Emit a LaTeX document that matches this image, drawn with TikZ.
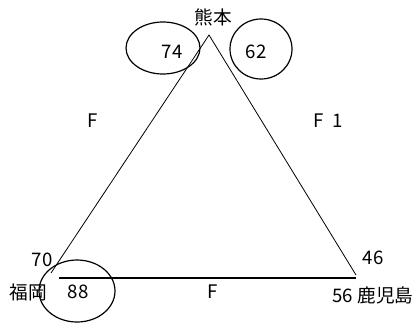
\documentclass[tikz,border=0pt]{standalone}
\usepackage{fontspec}
\setmainfont{Noto Sans CJK JP}
\usepackage{tikz}
\tikzset{
  lbl/.style={inner sep=0pt, font=\fontsize{14}{16}\selectfont},
  ring/.style={draw, line width=0.9pt}
}

\begin{document}
\begin{tikzpicture}[x=0.75pt, y=0.75pt]

  \useasboundingbox (0, 0) rectangle (420, -325);

  % corners of the triangle
  \coordinate (kumamoto) at (209, -35);
  \coordinate (fukuoka) at (51, -273);
  \coordinate (kagoshima) at (356, -275);
  \coordinate (baseL) at (59, -278);
  \coordinate (baseR) at (356, -278);

  \draw[line width=0.6pt] (fukuoka) -- (kumamoto) -- (kagoshima);
  \draw[line width=1.6pt] (baseL) -- (baseR);

  % circles
  \draw[ring] (163, -48) ellipse [x radius=37, y radius=26];
  \draw[ring] (261, -49) ellipse [x radius=31, y radius=30];
  \draw[ring] (77, -291) ellipse [x radius=38, y radius=31];

  % labels
  \node[lbl] (nkuma) at (213, -17) {熊本};
  \node[lbl] (n74) at (172, -52) {74};
  \node[lbl] (n62) at (256, -52) {62};
  \node[lbl] (fleft) at (93, -121) {F};
  \node[lbl] (fright) at (328, -121) {F\enspace 1};
  \node[lbl] (n70) at (42, -260) {70};
  \node[lbl] (nfuku) at (28, -292) {福岡};
  \node[lbl] (n88) at (78, -292) {88};
  \node[lbl] (fbase) at (213, -292) {F};
  \node[lbl] (n46) at (373, -258) {46};
  \node[lbl] (nkago) at (373, -295) {56 鹿児島};

\end{tikzpicture}
\end{document}
